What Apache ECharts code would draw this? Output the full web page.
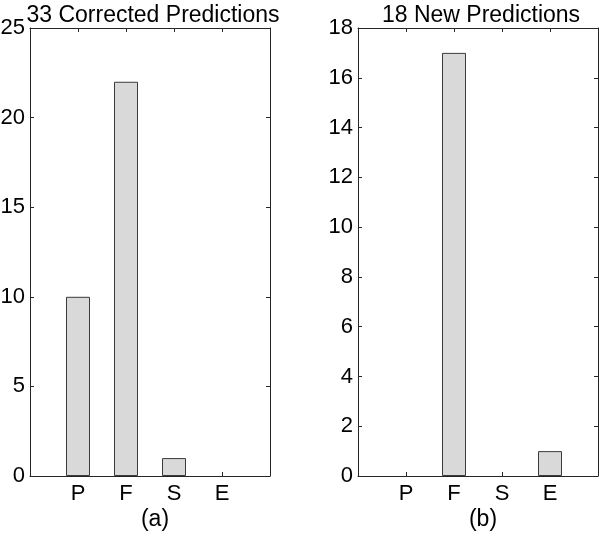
<!DOCTYPE html>
<html>
<head>
<meta charset="utf-8">
<script src="https://cdn.jsdelivr.net/npm/echarts@6/dist/echarts.min.js"></script>
<style>
  html, body { margin: 0; padding: 0; background: #fff; }
  #chart { width: 600px; height: 537px; }
</style>
</head>
<body>
<div id="chart"></div>
<script>
// data
const categories = ['P', 'F', 'S', 'E'];
const correctedCounts = [10, 22, 1, 0];
const newCounts = [0, 17, 0, 1];
const panelTitles = ['33 Corrected Predictions', '18 New Predictions'];
const panelLabels = ['(a)', '(b)'];
const yMax = [25, 18];
const yStep = [5, 2];

const font = 'Liberation Sans, Arial, Helvetica, sans-serif';
const fs = 23;
const tickFs = 22;
const ink = '#262626';

// zero counts draw nothing in the original
function toPoints(vals) {
  return vals.map((v, i) => [i + 1, v]).filter(p => p[1] !== 0);
}

function xAxes(gridIndex) {
  const base = {
    type: 'value', gridIndex: gridIndex, min: 0, max: 5, interval: 1,
    splitLine: { show: false },
    axisLine: { show: true, onZero: false, lineStyle: { color: ink, width: 1 } },
    axisTick: { show: true, inside: true, length: 4, lineStyle: { color: ink } }
  };
  return [
    Object.assign({}, base, {
      position: 'bottom',
      axisLabel: {
        color: '#000', fontFamily: font, fontSize: tickFs, margin: 7,
        formatter: v => categories[v - 1] || ''
      }
    }),
    Object.assign({}, base, { position: 'top', axisLabel: { show: false } })
  ];
}

function yAxes(gridIndex) {
  const base = {
    type: 'value', gridIndex: gridIndex, min: 0,
    max: yMax[gridIndex], interval: yStep[gridIndex],
    splitLine: { show: false },
    axisLine: { show: true, onZero: false, lineStyle: { color: ink, width: 1 } },
    axisTick: { show: true, inside: true, length: 4, lineStyle: { color: ink } }
  };
  return [
    Object.assign({}, base, {
      position: 'left',
      axisLabel: { color: '#000', fontFamily: font, fontSize: tickFs, margin: 5 }
    }),
    Object.assign({}, base, { position: 'right', axisLabel: { show: false } })
  ];
}

function barSeries(vals, idx) {
  return {
    type: 'bar', xAxisIndex: idx * 2, yAxisIndex: idx * 2,
    data: toPoints(vals), barWidth: 24,
    itemStyle: { color: '#d9d9d9', borderColor: '#3a3a3a', borderWidth: 1 },
    silent: true
  };
}

const textStyle = { fontFamily: font, fontSize: fs, fontWeight: 'normal', color: '#000' };

const chart = echarts.init(document.getElementById('chart'));
chart.setOption({
  animation: false,
  backgroundColor: '#fff',
  title: [
    { text: panelTitles[0], left: 148, top: -1, textAlign: 'center', textStyle: textStyle },
    { text: panelTitles[1], left: 476, top: -1, textAlign: 'center', textStyle: textStyle },
    { text: panelLabels[0], left: 150, top: 503, textAlign: 'center', textStyle: textStyle },
    { text: panelLabels[1], left: 478, top: 503, textAlign: 'center', textStyle: textStyle }
  ],
  grid: [
    { left: 30, width: 240, top: 28, bottom: 61, outerBoundsMode: 'none', containLabel: false },
    { left: 358, width: 240, top: 28, bottom: 61, outerBoundsMode: 'none', containLabel: false }
  ],
  xAxis: xAxes(0).concat(xAxes(1)),
  yAxis: yAxes(0).concat(yAxes(1)),
  series: [barSeries(correctedCounts, 0), barSeries(newCounts, 1)]
});
</script>
</body>
</html>
